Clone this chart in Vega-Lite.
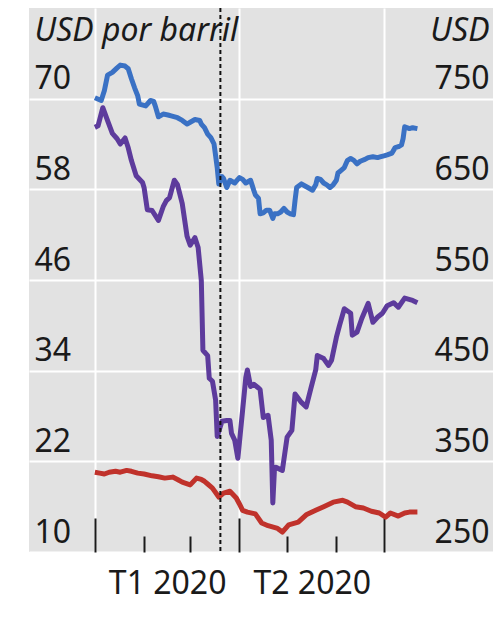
{
  "$schema": "https://vega.github.io/schema/vega-lite/v6.json",
  "width": 464,
  "height": 544,
  "autosize": {"type": "none"},
  "padding": {"left": 29, "top": 8, "right": 0, "bottom": 67},
  "background": "white",
  "config": {
    "view": {"fill": "#e2e2e2", "stroke": null},
    "font": "Noto Sans",
    "axis": {"labelFont": "Noto Sans", "titleFont": "Noto Sans", "labelColor": "#1a1a1a", "titleColor": "#1a1a1a", "domain": false}
  },
  "datasets": {
    "brent": [
      {"fecha": "2020-01-01", "valor": 66.2}, {"fecha": "2020-01-03", "valor": 66.4}, {"fecha": "2020-01-06", "valor": 68.8},
      {"fecha": "2020-01-09", "valor": 67.1}, {"fecha": "2020-01-12", "valor": 65.4}, {"fecha": "2020-01-15", "valor": 64.7},
      {"fecha": "2020-01-17", "valor": 64.0}, {"fecha": "2020-01-20", "valor": 64.8}, {"fecha": "2020-01-22", "valor": 63.5},
      {"fecha": "2020-01-24", "valor": 61.8}, {"fecha": "2020-01-27", "valor": 59.8}, {"fecha": "2020-01-31", "valor": 58.9},
      {"fecha": "2020-02-01", "valor": 58.2}, {"fecha": "2020-02-03", "valor": 55.3}, {"fecha": "2020-02-06", "valor": 55.2},
      {"fecha": "2020-02-10", "valor": 53.9}, {"fecha": "2020-02-13", "valor": 55.7}, {"fecha": "2020-02-15", "valor": 56.5},
      {"fecha": "2020-02-17", "valor": 56.9}, {"fecha": "2020-02-20", "valor": 59.2}, {"fecha": "2020-02-22", "valor": 58.6},
      {"fecha": "2020-02-25", "valor": 56.1}, {"fecha": "2020-02-28", "valor": 51.8}, {"fecha": "2020-03-01", "valor": 50.6},
      {"fecha": "2020-03-04", "valor": 51.6}, {"fecha": "2020-03-06", "valor": 50.3}, {"fecha": "2020-03-08", "valor": 45.9},
      {"fecha": "2020-03-09", "valor": 36.7}, {"fecha": "2020-03-12", "valor": 36.0}, {"fecha": "2020-03-13", "valor": 33.0},
      {"fecha": "2020-03-15", "valor": 32.6}, {"fecha": "2020-03-17", "valor": 30.1}, {"fecha": "2020-03-18", "valor": 25.3},
      {"fecha": "2020-03-21", "valor": 27.3}, {"fecha": "2020-03-24", "valor": 27.4}, {"fecha": "2020-03-26", "valor": 27.4},
      {"fecha": "2020-03-27", "valor": 25.7}, {"fecha": "2020-03-29", "valor": 24.8}, {"fecha": "2020-03-31", "valor": 22.4},
      {"fecha": "2020-04-03", "valor": 28.8}, {"fecha": "2020-04-05", "valor": 33.1}, {"fecha": "2020-04-06", "valor": 34.1},
      {"fecha": "2020-04-08", "valor": 31.9}, {"fecha": "2020-04-10", "valor": 32.2}, {"fecha": "2020-04-13", "valor": 31.7},
      {"fecha": "2020-04-14", "valor": 31.5}, {"fecha": "2020-04-16", "valor": 27.8}, {"fecha": "2020-04-19", "valor": 28.1},
      {"fecha": "2020-04-21", "valor": 24.8}, {"fecha": "2020-04-22", "valor": 16.5}, {"fecha": "2020-04-23", "valor": 20.8},
      {"fecha": "2020-04-24", "valor": 21.2}, {"fecha": "2020-04-28", "valor": 20.8}, {"fecha": "2020-05-01", "valor": 25.2},
      {"fecha": "2020-05-04", "valor": 26.1}, {"fecha": "2020-05-06", "valor": 30.9}, {"fecha": "2020-05-10", "valor": 29.8},
      {"fecha": "2020-05-13", "valor": 29.2}, {"fecha": "2020-05-16", "valor": 31.7}, {"fecha": "2020-05-19", "valor": 34.1},
      {"fecha": "2020-05-20", "valor": 36.0}, {"fecha": "2020-05-24", "valor": 35.6}, {"fecha": "2020-05-27", "valor": 34.7},
      {"fecha": "2020-05-29", "valor": 35.4}, {"fecha": "2020-06-01", "valor": 38.4}, {"fecha": "2020-06-03", "valor": 40.0},
      {"fecha": "2020-06-06", "valor": 42.2}, {"fecha": "2020-06-10", "valor": 41.6}, {"fecha": "2020-06-11", "valor": 38.7},
      {"fecha": "2020-06-14", "valor": 39.1}, {"fecha": "2020-06-17", "valor": 40.9}, {"fecha": "2020-06-21", "valor": 42.9},
      {"fecha": "2020-06-24", "valor": 40.4}, {"fecha": "2020-06-27", "valor": 41.1}, {"fecha": "2020-06-30", "valor": 41.6},
      {"fecha": "2020-07-03", "valor": 42.6}, {"fecha": "2020-07-07", "valor": 43.0}, {"fecha": "2020-07-10", "valor": 42.4},
      {"fecha": "2020-07-14", "valor": 43.6}, {"fecha": "2020-07-19", "valor": 43.3}, {"fecha": "2020-07-22", "valor": 43.0}
    ],
    "usd": [
      {"fecha": "2020-01-01", "valor": 751, "serie": "azul"}, {"fecha": "2020-01-05", "valor": 748, "serie": "azul"},
      {"fecha": "2020-01-07", "valor": 759, "serie": "azul"}, {"fecha": "2020-01-09", "valor": 776, "serie": "azul"},
      {"fecha": "2020-01-12", "valor": 779, "serie": "azul"}, {"fecha": "2020-01-15", "valor": 784, "serie": "azul"},
      {"fecha": "2020-01-17", "valor": 787, "serie": "azul"}, {"fecha": "2020-01-20", "valor": 786, "serie": "azul"},
      {"fecha": "2020-01-22", "valor": 783, "serie": "azul"}, {"fecha": "2020-01-24", "valor": 772, "serie": "azul"},
      {"fecha": "2020-01-26", "valor": 762, "serie": "azul"}, {"fecha": "2020-01-28", "valor": 753, "serie": "azul"},
      {"fecha": "2020-01-29", "valor": 744, "serie": "azul"}, {"fecha": "2020-02-02", "valor": 742, "serie": "azul"},
      {"fecha": "2020-02-05", "valor": 748, "serie": "azul"}, {"fecha": "2020-02-07", "valor": 747, "serie": "azul"},
      {"fecha": "2020-02-08", "valor": 742, "serie": "azul"}, {"fecha": "2020-02-10", "valor": 730, "serie": "azul"},
      {"fecha": "2020-02-13", "valor": 733, "serie": "azul"}, {"fecha": "2020-02-16", "valor": 732, "serie": "azul"},
      {"fecha": "2020-02-18", "valor": 731, "serie": "azul"}, {"fecha": "2020-02-22", "valor": 729, "serie": "azul"},
      {"fecha": "2020-02-25", "valor": 726, "serie": "azul"}, {"fecha": "2020-02-28", "valor": 722, "serie": "azul"},
      {"fecha": "2020-03-01", "valor": 724, "serie": "azul"}, {"fecha": "2020-03-04", "valor": 727, "serie": "azul"},
      {"fecha": "2020-03-07", "valor": 726, "serie": "azul"}, {"fecha": "2020-03-08", "valor": 722, "serie": "azul"},
      {"fecha": "2020-03-10", "valor": 718, "serie": "azul"}, {"fecha": "2020-03-12", "valor": 711, "serie": "azul"},
      {"fecha": "2020-03-14", "valor": 707, "serie": "azul"}, {"fecha": "2020-03-16", "valor": 700, "serie": "azul"},
      {"fecha": "2020-03-17", "valor": 687, "serie": "azul"}, {"fecha": "2020-03-18", "valor": 674, "serie": "azul"},
      {"fecha": "2020-03-19", "valor": 656, "serie": "azul"}, {"fecha": "2020-03-21", "valor": 664, "serie": "azul"},
      {"fecha": "2020-03-22", "valor": 662, "serie": "azul"}, {"fecha": "2020-03-24", "valor": 652, "serie": "azul"},
      {"fecha": "2020-03-26", "valor": 660, "serie": "azul"}, {"fecha": "2020-03-29", "valor": 657, "serie": "azul"},
      {"fecha": "2020-03-30", "valor": 659, "serie": "azul"}, {"fecha": "2020-04-01", "valor": 663, "serie": "azul"},
      {"fecha": "2020-04-03", "valor": 661, "serie": "azul"}, {"fecha": "2020-04-05", "valor": 657, "serie": "azul"},
      {"fecha": "2020-04-08", "valor": 660, "serie": "azul"}, {"fecha": "2020-04-10", "valor": 649, "serie": "azul"},
      {"fecha": "2020-04-11", "valor": 644, "serie": "azul"}, {"fecha": "2020-04-13", "valor": 640, "serie": "azul"},
      {"fecha": "2020-04-14", "valor": 623, "serie": "azul"}, {"fecha": "2020-04-16", "valor": 624, "serie": "azul"},
      {"fecha": "2020-04-18", "valor": 627, "serie": "azul"}, {"fecha": "2020-04-20", "valor": 627, "serie": "azul"},
      {"fecha": "2020-04-22", "valor": 618, "serie": "azul"}, {"fecha": "2020-04-23", "valor": 623, "serie": "azul"},
      {"fecha": "2020-04-25", "valor": 623, "serie": "azul"}, {"fecha": "2020-04-27", "valor": 625, "serie": "azul"},
      {"fecha": "2020-04-29", "valor": 629, "serie": "azul"}, {"fecha": "2020-05-01", "valor": 625, "serie": "azul"},
      {"fecha": "2020-05-03", "valor": 623, "serie": "azul"}, {"fecha": "2020-05-05", "valor": 622, "serie": "azul"},
      {"fecha": "2020-05-06", "valor": 638, "serie": "azul"}, {"fecha": "2020-05-07", "valor": 652, "serie": "azul"},
      {"fecha": "2020-05-10", "valor": 656, "serie": "azul"}, {"fecha": "2020-05-12", "valor": 654, "serie": "azul"},
      {"fecha": "2020-05-14", "valor": 652, "serie": "azul"}, {"fecha": "2020-05-17", "valor": 649, "serie": "azul"},
      {"fecha": "2020-05-19", "valor": 655, "serie": "azul"}, {"fecha": "2020-05-20", "valor": 662, "serie": "azul"},
      {"fecha": "2020-05-22", "valor": 661, "serie": "azul"}, {"fecha": "2020-05-24", "valor": 657, "serie": "azul"},
      {"fecha": "2020-05-26", "valor": 655, "serie": "azul"}, {"fecha": "2020-05-28", "valor": 652, "serie": "azul"},
      {"fecha": "2020-05-30", "valor": 655, "serie": "azul"}, {"fecha": "2020-06-01", "valor": 660, "serie": "azul"},
      {"fecha": "2020-06-02", "valor": 668, "serie": "azul"}, {"fecha": "2020-06-04", "valor": 671, "serie": "azul"},
      {"fecha": "2020-06-06", "valor": 674, "serie": "azul"}, {"fecha": "2020-06-08", "valor": 682, "serie": "azul"},
      {"fecha": "2020-06-10", "valor": 684, "serie": "azul"}, {"fecha": "2020-06-12", "valor": 682, "serie": "azul"},
      {"fecha": "2020-06-14", "valor": 678, "serie": "azul"}, {"fecha": "2020-06-16", "valor": 681, "serie": "azul"},
      {"fecha": "2020-06-19", "valor": 683, "serie": "azul"}, {"fecha": "2020-06-21", "valor": 685, "serie": "azul"},
      {"fecha": "2020-06-24", "valor": 686, "serie": "azul"}, {"fecha": "2020-06-27", "valor": 685, "serie": "azul"},
      {"fecha": "2020-06-29", "valor": 686, "serie": "azul"}, {"fecha": "2020-07-01", "valor": 687, "serie": "azul"},
      {"fecha": "2020-07-03", "valor": 688, "serie": "azul"}, {"fecha": "2020-07-06", "valor": 690, "serie": "azul"},
      {"fecha": "2020-07-08", "valor": 696, "serie": "azul"}, {"fecha": "2020-07-10", "valor": 697, "serie": "azul"},
      {"fecha": "2020-07-12", "valor": 699, "serie": "azul"}, {"fecha": "2020-07-13", "valor": 706, "serie": "azul"},
      {"fecha": "2020-07-14", "valor": 719, "serie": "azul"}, {"fecha": "2020-07-17", "valor": 717, "serie": "azul"},
      {"fecha": "2020-07-19", "valor": 718, "serie": "azul"}, {"fecha": "2020-07-22", "valor": 717, "serie": "azul"},
      {"fecha": "2020-01-01", "valor": 338, "serie": "roja"}, {"fecha": "2020-01-04", "valor": 337, "serie": "roja"},
      {"fecha": "2020-01-07", "valor": 336, "serie": "roja"}, {"fecha": "2020-01-10", "valor": 338, "serie": "roja"},
      {"fecha": "2020-01-14", "valor": 339, "serie": "roja"}, {"fecha": "2020-01-17", "valor": 338, "serie": "roja"},
      {"fecha": "2020-01-21", "valor": 340, "serie": "roja"}, {"fecha": "2020-01-24", "valor": 339, "serie": "roja"},
      {"fecha": "2020-01-28", "valor": 337, "serie": "roja"}, {"fecha": "2020-02-01", "valor": 336, "serie": "roja"},
      {"fecha": "2020-02-06", "valor": 334, "serie": "roja"}, {"fecha": "2020-02-10", "valor": 333, "serie": "roja"},
      {"fecha": "2020-02-14", "valor": 331.5, "serie": "roja"}, {"fecha": "2020-02-19", "valor": 332.6, "serie": "roja"},
      {"fecha": "2020-02-22", "valor": 330, "serie": "roja"}, {"fecha": "2020-02-25", "valor": 327, "serie": "roja"},
      {"fecha": "2020-03-01", "valor": 324, "serie": "roja"}, {"fecha": "2020-03-05", "valor": 331.5, "serie": "roja"},
      {"fecha": "2020-03-08", "valor": 330, "serie": "roja"}, {"fecha": "2020-03-10", "valor": 328, "serie": "roja"},
      {"fecha": "2020-03-12", "valor": 325, "serie": "roja"}, {"fecha": "2020-03-15", "valor": 320.5, "serie": "roja"},
      {"fecha": "2020-03-19", "valor": 310.6, "serie": "roja"}, {"fecha": "2020-03-22", "valor": 315, "serie": "roja"},
      {"fecha": "2020-03-26", "valor": 317, "serie": "roja"}, {"fecha": "2020-03-30", "valor": 309.5, "serie": "roja"},
      {"fecha": "2020-04-01", "valor": 303, "serie": "roja"}, {"fecha": "2020-04-03", "valor": 296, "serie": "roja"},
      {"fecha": "2020-04-06", "valor": 294, "serie": "roja"}, {"fecha": "2020-04-11", "valor": 292, "serie": "roja"},
      {"fecha": "2020-04-15", "valor": 282, "serie": "roja"}, {"fecha": "2020-04-19", "valor": 279, "serie": "roja"},
      {"fecha": "2020-04-25", "valor": 276, "serie": "roja"}, {"fecha": "2020-04-28", "valor": 272, "serie": "roja"},
      {"fecha": "2020-05-02", "valor": 280, "serie": "roja"}, {"fecha": "2020-05-08", "valor": 283, "serie": "roja"},
      {"fecha": "2020-05-13", "valor": 291, "serie": "roja"}, {"fecha": "2020-05-19", "valor": 296, "serie": "roja"},
      {"fecha": "2020-05-24", "valor": 300, "serie": "roja"}, {"fecha": "2020-05-30", "valor": 305, "serie": "roja"},
      {"fecha": "2020-06-05", "valor": 307, "serie": "roja"}, {"fecha": "2020-06-08", "valor": 305, "serie": "roja"},
      {"fecha": "2020-06-13", "valor": 300, "serie": "roja"}, {"fecha": "2020-06-18", "valor": 298.5, "serie": "roja"},
      {"fecha": "2020-06-23", "valor": 295, "serie": "roja"}, {"fecha": "2020-06-28", "valor": 293, "serie": "roja"},
      {"fecha": "2020-07-02", "valor": 288.5, "serie": "roja"}, {"fecha": "2020-07-05", "valor": 293, "serie": "roja"},
      {"fecha": "2020-07-10", "valor": 289.6, "serie": "roja"}, {"fecha": "2020-07-14", "valor": 293, "serie": "roja"},
      {"fecha": "2020-07-17", "valor": 294, "serie": "roja"}, {"fecha": "2020-07-22", "valor": 294, "serie": "roja"}
    ],
    "marca": [{"fecha": "2020-03-20"}]
  },
  "layer": [
    {
      "data": {"name": "brent"},
      "mark": {"type": "line", "color": "#5D3B9C", "strokeWidth": 5, "strokeJoin": "round"},
      "encoding": {
        "x": {
          "field": "fecha", "type": "temporal",
          "scale": {"type": "utc", "nice": false, "domain": [{"year": 2019, "month": 11, "date": 20, "hours": 13, "utc": true}, {"year": 2020, "month": 9, "date": 7, "hours": 14, "utc": true}]},
          "axis": {
            "orient": "bottom", "title": null, "labels": false, "domain": false,
            "values": [{"year": 2020, "month": 1, "date": 1, "utc": true}, {"year": 2020, "month": 4, "date": 1, "utc": true}, {"year": 2020, "month": 7, "date": 1, "utc": true}],
            "grid": true, "gridColor": "#ffffff", "gridWidth": 2, "gridOpacity": 1,
            "ticks": true, "tickSize": -34, "tickWidth": 2, "tickColor": "#1a1a1a"
          }
        },
        "y": {
          "field": "valor", "type": "quantitative",
          "scale": {"domain": [10, 82], "nice": false, "zero": false},
          "axis": {
            "orient": "left", "values": [10, 22, 34, 46, 58, 70],
            "grid": true, "gridColor": "#ffffff", "gridWidth": 2, "gridOpacity": 1,
            "ticks": false, "tickSize": 0, "domain": false,
            "labelAlign": "left", "labelBaseline": "alphabetic", "labelPadding": -5, "labelOffset": -10,
            "labelFontSize": 32, "labelOverlap": false,
            "title": "USD por barril", "titleAngle": 0, "titleAlign": "left", "titleBaseline": "alphabetic",
            "titleX": 5, "titleY": 32, "titleFontSize": 32, "titleFontStyle": "italic", "titleFontWeight": "normal"
          }
        }
      }
    },
    {
      "data": {"name": "usd"},
      "mark": {"type": "line", "strokeWidth": 5, "strokeJoin": "round"},
      "encoding": {
        "x": {
          "field": "fecha", "type": "temporal",
          "scale": {"type": "utc", "nice": false, "domain": [{"year": 2019, "month": 11, "date": 20, "hours": 13, "utc": true}, {"year": 2020, "month": 9, "date": 7, "hours": 14, "utc": true}]},
          "axis": {
            "orient": "bottom", "title": null, "labels": false, "domain": false, "grid": false,
            "values": [{"year": 2020, "month": 2, "date": 1, "utc": true}, {"year": 2020, "month": 3, "date": 1, "utc": true}, {"year": 2020, "month": 5, "date": 1, "utc": true}, {"year": 2020, "month": 6, "date": 1, "utc": true}],
            "ticks": true, "tickSize": -16, "tickWidth": 2, "tickColor": "#1a1a1a"
          }
        },
        "y": {
          "field": "valor", "type": "quantitative",
          "scale": {"domain": [250, 850], "nice": false, "zero": false},
          "axis": {
            "orient": "right", "values": [250, 350, 450, 550, 650, 750],
            "grid": false, "ticks": false, "tickSize": 0, "domain": false,
            "labelAlign": "right", "labelBaseline": "alphabetic", "labelPadding": -4, "labelOffset": -10,
            "labelFontSize": 32, "labelOverlap": false,
            "title": "USD", "titleAngle": 0, "titleAlign": "right", "titleBaseline": "alphabetic",
            "titleX": -4, "titleY": 32, "titleFontSize": 32, "titleFontStyle": "italic", "titleFontWeight": "normal"
          }
        },
        "color": {
          "field": "serie", "type": "nominal",
          "scale": {"domain": ["azul", "roja"], "range": ["#3A71C4", "#C0322B"]},
          "legend": null
        }
      }
    },
    {
      "data": {"name": "marca"},
      "mark": {"type": "rule", "color": "#111111", "strokeWidth": 2, "strokeDash": [4, 3]},
      "encoding": {
        "x": {
          "field": "fecha", "type": "temporal",
          "scale": {"type": "utc", "nice": false, "domain": [{"year": 2019, "month": 11, "date": 20, "hours": 13, "utc": true}, {"year": 2020, "month": 9, "date": 7, "hours": 14, "utc": true}]},
          "axis": {
            "orient": "bottom", "title": null, "domain": false, "grid": false, "ticks": false, "tickSize": 0,
            "values": [{"year": 2020, "month": 2, "date": 15, "hours": 12, "utc": true}, {"year": 2020, "month": 5, "date": 16, "hours": 12, "utc": true}],
            "labelExpr": "utcmonth(datum.value) < 3 ? 'T1 2020' : 'T2 2020'",
            "labelFontSize": 32, "labelPadding": 41, "labelBaseline": "alphabetic",
            "labelFlush": false, "labelOverlap": false, "labelBound": false, "labelAlign": "center"
          }
        }
      }
    }
  ],
  "resolve": {
    "scale": {"y": "independent"},
    "axis": {"x": "independent", "y": "independent"}
  }
}
